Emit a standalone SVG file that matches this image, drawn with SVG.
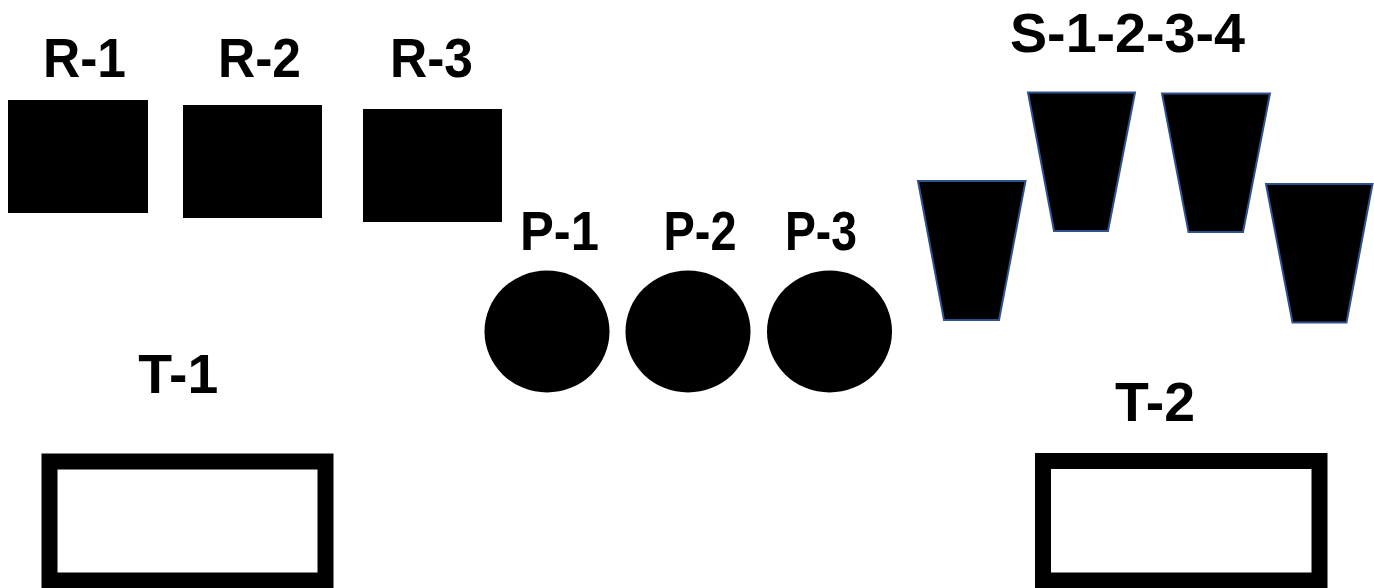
<svg xmlns="http://www.w3.org/2000/svg" width="1374" height="588" viewBox="0 0 1374 588">
<style>
.lbl{font-family:"Liberation Sans",Arial,sans-serif;font-weight:bold;font-size:55px;fill:#000;text-anchor:middle}
.sq{fill:#000}
.tank{fill:#fff;stroke:#000;stroke-width:16}
.sep{fill:#000;stroke:#2F528F;stroke-width:2}
</style>
<rect width="1374" height="588" fill="#fff"/>
<g id="R-1"><rect class="sq" x="8" y="100" width="140" height="113"/><text class="lbl" x="84.5" y="77" textLength="83" lengthAdjust="spacingAndGlyphs">R-1</text></g>
<g id="R-2"><rect class="sq" x="183" y="105" width="139" height="113"/><text class="lbl" x="259.5" y="77" textLength="83" lengthAdjust="spacingAndGlyphs">R-2</text></g>
<g id="R-3"><rect class="sq" x="363" y="109" width="139" height="113"/><text class="lbl" x="431.5" y="77" textLength="83" lengthAdjust="spacingAndGlyphs">R-3</text></g>
<g id="P-1"><ellipse class="sq" cx="547" cy="331.5" rx="62.5" ry="61"/><text class="lbl" x="559.5" y="250" textLength="79" lengthAdjust="spacingAndGlyphs">P-1</text></g>
<g id="P-2"><ellipse class="sq" cx="688" cy="331.5" rx="62.5" ry="61"/><text class="lbl" x="700" y="250" textLength="73" lengthAdjust="spacingAndGlyphs">P-2</text></g>
<g id="P-3"><ellipse class="sq" cx="829.5" cy="331.5" rx="62.5" ry="61"/><text class="lbl" x="821" y="250" textLength="72" lengthAdjust="spacingAndGlyphs">P-3</text></g>
<g id="S-1-2-3-4">
<polygon class="sep" points="918,181 1025.5,181 999,320 944,320"/>
<polygon class="sep" points="1028,92.5 1135,92.5 1108,231 1054,231"/>
<polygon class="sep" points="1162,93.5 1270,93.5 1243,232 1188.5,232"/>
<polygon class="sep" points="1266,184 1372.5,184 1346.5,322.5 1292.5,322.5"/>
<text class="lbl" x="1127.5" y="52" textLength="235" lengthAdjust="spacingAndGlyphs">S-1-2-3-4</text>
</g>
<g id="T-1"><rect class="tank" x="49.5" y="461.5" width="276" height="119"/><text class="lbl" x="178.3" y="392.5" textLength="80" lengthAdjust="spacingAndGlyphs">T-1</text></g>
<g id="T-2"><rect class="tank" x="1043" y="461" width="276.5" height="119.5"/><text class="lbl" x="1155" y="420.5" textLength="80" lengthAdjust="spacingAndGlyphs">T-2</text></g>
<g id="connectors"></g>
</svg>
